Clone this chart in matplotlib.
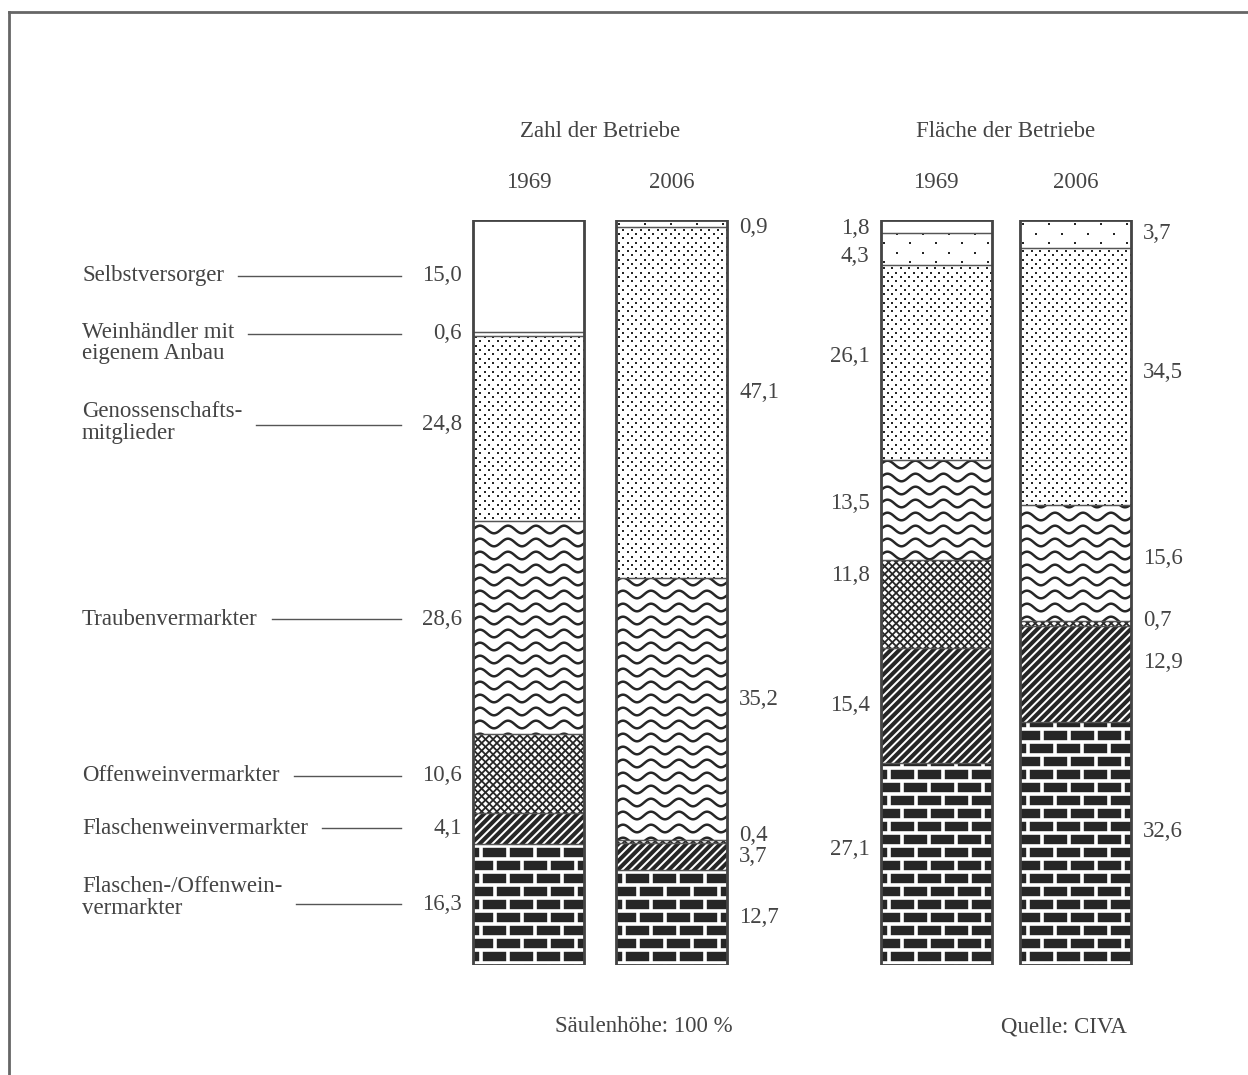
import numpy as np
import matplotlib
matplotlib.use('Agg')
import matplotlib.pyplot as plt
from matplotlib.collections import LineCollection
from matplotlib.lines import Line2D

plt.rcParams['font.family'] = ['Liberation Serif', 'DejaVu Serif']

# categories from bottom to top of each column
categories = ['Flaschen-/Offenwein-\nvermarkter', 'Flaschenweinvermarkter',
              'Offenweinvermarkter', 'Traubenvermarkter',
              'Genossenschafts-\nmitglieder', 'Weinhändler mit\neigenem Anbau',
              'Selbstversorger']
zahl_1969 = [16.3, 4.1, 10.6, 28.6, 24.8, 0.6, 15.0]
zahl_2006 = [12.7, 3.7, 0.4, 35.2, 47.1, 0.9, 0.0]
flaeche_1969 = [27.1, 15.4, 11.8, 13.5, 26.1, 4.3, 1.8]
flaeche_2006 = [32.6, 12.9, 0.7, 15.6, 34.5, 3.7, 0.0]
years = ['1969', '2006', '1969', '2006']
groups = ['Zahl der Betriebe', 'Fläche der Betriebe']
series = [zahl_1969, zahl_2006, flaeche_1969, flaeche_2006]
patterns = ['brick', 'diag', 'cross', 'wave', 'dense', 'sparse', 'none']

# layout (pixels)
W, H = 1248, 1075
TOP, BOTTOM = 220, 965
PX = (BOTTOM - TOP) / 100.0
bar_x = [528.5, 671.5, 936, 1075.5]
bar_w = 111
label_side = ['left', 'right', 'left', 'right']
# small vertical nudges of the value labels (in %)
nudges = [[0, 0, -0.3, 1.1, 0.5, 0, 0],
          [0, 0, 0.8, 1.2, 1.3, -0.5, 0],
          [1.9, 0, 3.9, 0.9, 0.8, -0.9, -0.3],
          [1.6, 1.5, 0.4, 0.5, 0.5, 0, 0]]
block_shift = [-7, 0, 0, 0, -2, 9, 0]   # left labels, pixels down
INK = '#444444'
DARK = '#262626'
FS = 16.5


def fmt(v):
    return f'{v:.1f}'.replace('.', ',')


fig = plt.figure(figsize=(W / 100, H / 100), dpi=100)
ax = fig.add_axes([0, 1 - BOTTOM / H, 1, (BOTTOM - TOP) / H])
ax.set_xlim(0, W)
ax.set_ylim(0, 100)
ax.axis('off')


def pat_dots(rect, x0, x1, b, t, dx, dy, s):
    xs, ys = [], []
    for k in range(int(b * PX / dy) - 1, int(t * PX / dy) + 2):
        off = dx / 2 if k % 2 else 0
        row = np.arange(x0 + 3 + off - dx, x1 + dx, dx)
        xs.extend(row)
        ys.extend([k * dy / PX] * len(row))
    sc = ax.scatter(xs, ys, s=s, c=DARK, marker='s', linewidths=0, zorder=2)
    sc.set_clip_path(rect)


def pat_lines(rect, x0, x1, b, t, sp, lw, dirs):
    hp = (t - b) * PX
    segs = []
    for d in dirs:
        for c in np.arange(x0 - hp - 20, x1 + 20, sp):
            if d > 0:
                segs.append([(c, b - 2), (c + hp + 30, b + (hp + 30) / PX - 2)])
            else:
                segs.append([(c + hp + 30, b - 2), (c, b + (hp + 30) / PX - 2)])
    lc = LineCollection(segs, colors=DARK, linewidths=lw, zorder=2)
    ax.add_collection(lc)
    lc.set_clip_path(rect)


def pat_wave(rect, x0, x1, b, t, sp=13, amp=3.8, lam=28):
    xx = np.linspace(x0 - 5, x1 + 5, 200)
    segs = []
    for k in range(int(b * PX / sp) - 1, int(t * PX / sp) + 2):
        yp = k * sp + sp / 2 + amp * np.sin(2 * np.pi * (xx - x0) / lam)
        segs.append(np.column_stack([xx, yp / PX]))
    lc = LineCollection(segs, colors=DARK, linewidths=1.8, zorder=2)
    ax.add_collection(lc)
    lc.set_clip_path(rect)


def pat_brick(rect, x0, x1, b, t, rh=13, bl=27):
    segs = []
    for k in range(int(b * PX / rh) - 1, int(t * PX / rh) + 2):
        y0 = (k * rh + 2) / PX
        y1 = ((k + 1) * rh + 2) / PX
        segs.append([(x0 - 5, y0), (x1 + 5, y0)])
        off = bl / 2 if k % 2 else 0
        for xv in np.arange(x0 - bl + off + 8, x1 + bl, bl):
            segs.append([(xv, y0), (xv, y1)])
    lc = LineCollection(segs, colors='white', linewidths=2.6, zorder=2)
    ax.add_collection(lc)
    lc.set_clip_path(rect)


for i, vals in enumerate(series):
    x0 = bar_x[i] - bar_w / 2
    x1 = bar_x[i] + bar_w / 2
    bottoms = np.concatenate([[0], np.cumsum(vals)[:-1]])
    for j, (v, b) in enumerate(zip(vals, bottoms)):
        if v <= 0:
            continue
        fc = DARK if patterns[j] == 'brick' else 'white'
        rect = ax.bar(bar_x[i], v, bottom=b, width=bar_w, color=fc,
                      edgecolor='none', zorder=1)[0]
        t = b + v
        p = patterns[j]
        if p == 'dense':
            pat_dots(rect, x0, x1, b, t, 8.6, 4.3, 3.6)
        elif p == 'sparse':
            pat_dots(rect, x0, x1, b, t, 26, 9.5, 4.2)
        elif p == 'diag':
            pat_lines(rect, x0, x1, b, t, 8.5, 2.9, [1])
        elif p == 'cross':
            pat_lines(rect, x0, x1, b, t, 7.6, 1.3, [1, -1])
        elif p == 'wave':
            pat_wave(rect, x0, x1, b, t)
        elif p == 'brick':
            pat_brick(rect, x0, x1, b, t)
        ax.bar(bar_x[i], v, bottom=b, width=bar_w, fill=False,
               edgecolor='#555555', linewidth=0.9, zorder=3)
        # value label
        ym = b + v / 2 + nudges[i][j]
        if label_side[i] == 'left':
            ax.text(x0 - 11, ym, fmt(v), ha='right', va='center',
                    fontsize=FS, color=INK)
        else:
            ax.text(x1 + 12, ym, fmt(v), ha='left', va='center',
                    fontsize=FS, color=INK)
    ax.bar(bar_x[i], 100, width=bar_w, fill=False, edgecolor='#444444',
           linewidth=2.0, zorder=4)

# category labels with leader lines (first column)
fig.canvas.draw()
renderer = fig.canvas.get_renderer()
bottoms = np.concatenate([[0], np.cumsum(zahl_1969)[:-1]])
for j, cat in enumerate(categories):
    ym = bottoms[j] + zahl_1969[j] / 2 + nudges[0][j]
    t = ax.text(82, ym - block_shift[j] / PX, cat, ha='left', va='center',
                fontsize=FS, color=INK, linespacing=1.05)
    bb = t.get_window_extent(renderer)
    ax.plot([bb.x1 + 14, 401], [ym, ym], color='#555555', lw=1.0)

# headings
for g in range(2):
    cx = (bar_x[2 * g] + bar_x[2 * g + 1]) / 2
    fig.text(cx / W, 1 - 131 / H, groups[g], ha='center', va='center',
             fontsize=FS, color=INK)
for i, yr in enumerate(years):
    fig.text(bar_x[i] / W, 1 - 183 / H, yr, ha='center', va='center',
             fontsize=FS, color=INK)

fig.text(555 / W, 1 - 1027 / H, 'Säulenhöhe: 100 %', ha='left', va='center',
         fontsize=FS, color=INK)
fig.text(1127 / W, 1 - 1027 / H, 'Quelle: CIVA', ha='right', va='center',
         fontsize=FS, color=INK)

# outer frame (only top and left edges visible)
fig.add_artist(Line2D([9 / W, 9 / W], [0, 1 - 12 / H], color='#666666',
                      lw=2.0, transform=fig.transFigure))
fig.add_artist(Line2D([9 / W, 1], [1 - 12 / H, 1 - 12 / H], color='#666666',
                      lw=2.0, transform=fig.transFigure))

fig.savefig('out.png', dpi=100)
